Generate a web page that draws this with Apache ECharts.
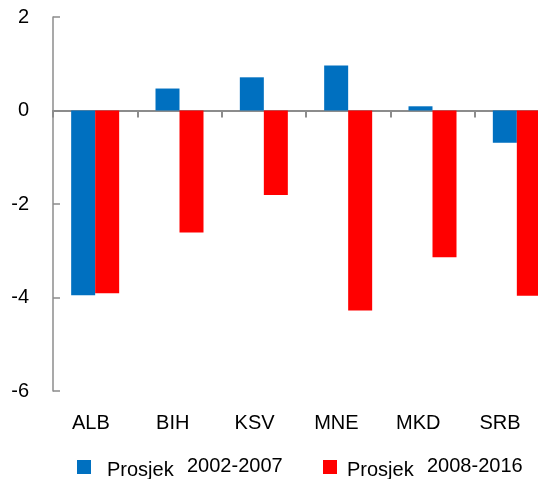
<!DOCTYPE html>
<html>
<head>
<meta charset="utf-8">
<script src="https://cdn.jsdelivr.net/npm/echarts@6/dist/echarts.min.js"></script>
<style>html,body{margin:0;padding:0;background:#fff}#c{width:538px;height:479px}</style>
</head>
<body>
<div id="c"></div>
<script>
const categories = ['ALB', 'BIH', 'KSV', 'MNE', 'MKD', 'SRB'];
const seriesNames = ['Prosjek 2002-2007', 'Prosjek 2008-2016'];
const avg2002_2007 = [-3.95, 0.47, 0.71, 0.96, 0.09, -0.69];
const avg2008_2016 = [-3.91, -2.61, -1.81, -4.28, -3.14, -3.96];
const yTicks = { min: -6, max: 2, interval: 2 };

const font = 'Liberation Sans, Arial, sans-serif';
const axisGray = '#8c8c8c';
const legendRich = {
  a: { fontFamily: font, fontSize: 20, color: '#000', width: 80, padding: [6, 0, 0, 0] },
  b: { fontFamily: font, fontSize: 20, color: '#000', padding: [0, 0, 2, 0] }
};
const chart = echarts.init(document.getElementById('c'));
chart.setOption({
  animation: false,
  grid: [
    { left: 53, top: 17, width: 506, height: 374, outerBoundsMode: 'none', containLabel: false },
    { left: 50, top: 17, width: 491, height: 374, outerBoundsMode: 'none', containLabel: false }
  ],
  legend: [
    { data: [seriesNames[0]], left: 77, top: 456, padding: 0, itemWidth: 14, itemHeight: 14, itemGap: 0,
      icon: 'rect', formatter: '{a|Prosjek}{b|2002-2007}',
      textStyle: { padding: [0, 0, 0, 11], rich: legendRich } },
    { data: [seriesNames[1]], left: 323, top: 456, padding: 0, itemWidth: 14, itemHeight: 14, itemGap: 0,
      icon: 'rect', formatter: '{a|Prosjek}{b|2008-2016}',
      textStyle: { padding: [0, 0, 0, 5], rich: legendRich } }
  ],
  xAxis: [
    { type: 'category', data: categories, gridIndex: 0,
      axisLine: { onZero: true, onZeroAxisIndex: 0, lineStyle: { color: axisGray, width: 2 } },
      axisTick: { show: true, length: 7, lineStyle: { color: axisGray, width: 2 } },
      axisLabel: { show: false } },
    { type: 'category', data: categories, gridIndex: 0,
      axisLine: { show: false, onZero: true, onZeroAxisIndex: 1 },
      axisTick: { show: true, inside: true, length: 7, lineStyle: { color: axisGray, width: 2 } },
      axisLabel: { show: false } },
    { type: 'category', data: categories, gridIndex: 1, position: 'bottom',
      axisLine: { show: false, onZero: false }, axisTick: { show: false },
      axisLabel: { fontFamily: font, fontSize: 20, color: '#000', margin: 22 } }
  ],
  yAxis: [
    { type: 'value', gridIndex: 0, min: yTicks.min, max: yTicks.max, interval: yTicks.interval,
      axisLine: { show: true, lineStyle: { color: axisGray, width: 1.5 } },
      axisTick: { show: true, inside: true, length: 7, lineStyle: { color: axisGray, width: 1.5 } },
      splitLine: { show: false },
      axisLabel: { fontFamily: font, fontSize: 20, color: '#000', margin: 24 } },
    { type: 'value', gridIndex: 0, min: yTicks.min, max: yTicks.max, interval: yTicks.interval, show: false },
    { type: 'value', gridIndex: 1, min: yTicks.min, max: yTicks.max, interval: yTicks.interval, show: false }
  ],
  series: [
    { name: seriesNames[0], type: 'bar', xAxisIndex: 0, yAxisIndex: 0, data: avg2002_2007,
      barWidth: 24, barGap: '0%', itemStyle: { color: '#0070C0' } },
    { name: seriesNames[1], type: 'bar', xAxisIndex: 0, yAxisIndex: 0, data: avg2008_2016,
      barWidth: 24, barGap: '0%', itemStyle: { color: '#FF0000' } }
  ]
});
</script>
</body>
</html>
